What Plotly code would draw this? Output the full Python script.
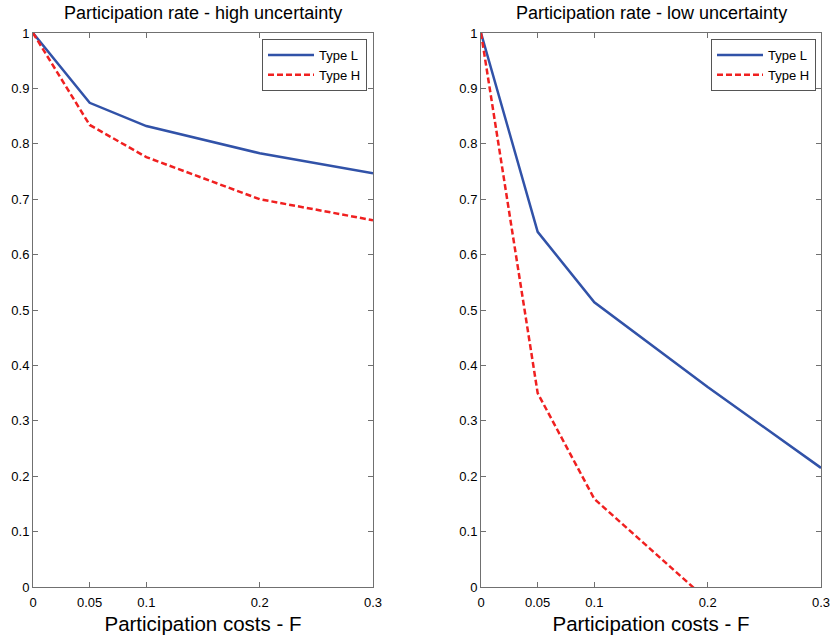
import plotly.graph_objects as go

x_costs = [0, 0.05, 0.1, 0.2, 0.3]
high_L = [1.0, 0.874, 0.832, 0.783, 0.747]
high_H = [1.0, 0.834, 0.776, 0.700, 0.662]
low_L = [1.0, 0.641, 0.514, 0.361, 0.215]
low_H = [1.0, 0.350, 0.159, -0.024]
x_low_H = [0, 0.05, 0.1, 0.2]

x_ticks = [0, 0.05, 0.1, 0.2, 0.3]
x_ticklabels = ["0", "0.05", "0.1", "0.2", "0.3"]
y_ticks = [0, 0.1, 0.2, 0.3, 0.4, 0.5, 0.6, 0.7, 0.8, 0.9, 1]
y_ticklabels = ["0", "0.1", "0.2", "0.3", "0.4", "0.5", "0.6", "0.7", "0.8", "0.9", "1"]

titles = ["Participation rate - high uncertainty", "Participation rate - low uncertainty"]
xlabel = "Participation costs - F"

BLUE = "#3152a8"
RED = "#f02020"
AX = "#707070"
FONT = "Liberation Sans, Arial, sans-serif"

fig = go.Figure()

W, H = 830, 642
left_dom = [33 / W, 373 / W]
right_dom = [481 / W, 821 / W]
y_dom = [1 - 587 / H, 1 - 33 / H]

fig.add_trace(go.Scatter(x=x_costs, y=high_L, mode="lines", name="Type L",
                         line=dict(color=BLUE, width=2.5), xaxis="x", yaxis="y", legend="legend"))
fig.add_trace(go.Scatter(x=x_costs, y=high_H, mode="lines", name="Type H",
                         line=dict(color=RED, width=2.5, dash="6px,3px"), xaxis="x", yaxis="y", legend="legend"))
fig.add_trace(go.Scatter(x=x_costs, y=low_L, mode="lines", name="Type L",
                         line=dict(color=BLUE, width=2.5), xaxis="x2", yaxis="y2", legend="legend2"))
fig.add_trace(go.Scatter(x=x_low_H, y=low_H, mode="lines", name="Type H",
                         line=dict(color=RED, width=2.5, dash="6px,3px"), xaxis="x2", yaxis="y2", legend="legend2"))

xaxis_common = dict(range=[0, 0.3], tickvals=x_ticks, ticktext=x_ticklabels, ticks="inside",
                    ticklen=5, tickcolor=AX, showline=True, linecolor=AX, linewidth=1, mirror="ticks",
                    showgrid=False, zeroline=False, automargin=False, ticklabelstandoff=3,
                    ticklabeloverflow="allow",
                    tickfont=dict(size=13, color="#000", family=FONT),
                    title=dict(text=xlabel, font=dict(size=20.5, color="#000", family=FONT), standoff=8))
yaxis_common = dict(range=[0, 1], tickvals=y_ticks, ticktext=y_ticklabels, ticks="inside",
                    ticklen=5, tickcolor=AX, showline=True, linecolor=AX, linewidth=1, mirror="ticks",
                    showgrid=False, zeroline=False, automargin=False, ticklabeloverflow="allow",
                    tickfont=dict(size=13, color="#000", family=FONT),
                    domain=y_dom)

legend_common = dict(yanchor="top", xanchor="right", bgcolor="white", bordercolor="#555",
                     borderwidth=1, font=dict(size=13, family=FONT, color="#000"),
                     tracegroupgap=0, itemwidth=46)

fig.update_layout(
    template="none",
    width=W, height=H,
    margin=dict(l=0, r=0, t=0, b=0, autoexpand=False),
    paper_bgcolor="white", plot_bgcolor="white",
    font=dict(family=FONT, color="#000"),
    xaxis=dict(domain=left_dom, anchor="y", **xaxis_common),
    yaxis=dict(anchor="x", **yaxis_common),
    xaxis2=dict(domain=right_dom, anchor="y2", **xaxis_common),
    yaxis2=dict(anchor="x2", **yaxis_common),
    legend=dict(x=367 / W, y=1 - 39 / H, **legend_common),
    legend2=dict(x=816 / W, y=1 - 39 / H, **legend_common),
    showlegend=True,
    annotations=[
        dict(text=titles[0], x=(left_dom[0] + left_dom[1]) / 2, y=1 - 13 / H, xref="paper", yref="paper",
             showarrow=False, font=dict(size=18, family=FONT, color="#000"),
             xanchor="center", yanchor="middle"),
        dict(text=titles[1], x=(right_dom[0] + right_dom[1]) / 2, y=1 - 13 / H, xref="paper", yref="paper",
             showarrow=False, font=dict(size=18, family=FONT, color="#000"),
             xanchor="center", yanchor="middle"),
    ],
)

fig.write_html("out.html", config={"displayModeBar": False},
               post_script="document.body.style.margin='0px';")
